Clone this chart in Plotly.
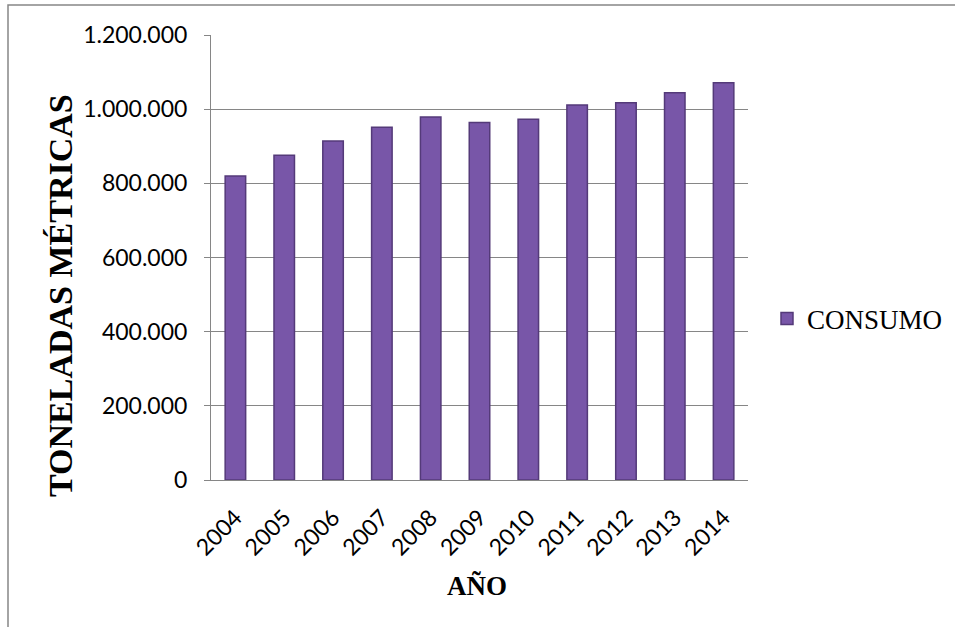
import plotly.graph_objects as go

# Consumo anual (toneladas métricas)
years = ["2004", "2005", "2006", "2007", "2008", "2009", "2010", "2011", "2012", "2013", "2014"]
consumo = [820000, 876000, 914000, 951000, 979000, 964000, 973000, 1011000, 1017000, 1044000, 1071000]
y_ticks = [0, 200000, 400000, 600000, 800000, 1000000, 1200000]

W, H = 955, 627
L, R, T, B = 211, 207, 35, 147
pw, ph = W - L - R, H - T - B


def px(x):
    return (x - L) / pw


def py(y):
    return (H - B - y) / ph


fig = go.Figure()
fig.add_trace(go.Bar(
    x=years,
    y=consumo,
    name="CONSUMO",
    marker=dict(color="#7856A8", line=dict(color="#543A79", width=1.5)),
    width=0.42,
))

fig.update_layout(
    width=W,
    height=H,
    margin=dict(l=L, r=R, t=T, b=B, autoexpand=False),
    paper_bgcolor="white",
    plot_bgcolor="white",
    separators=",.",
    showlegend=True,
    legend=dict(
        x=px(767), y=py(319), xanchor="left", yanchor="middle",
        font=dict(family="Liberation Serif", size=27, color="black"),
        bgcolor="rgba(0,0,0,0)", itemwidth=30,
    ),
    xaxis=dict(
        tickangle=-45,
        tickfont=dict(family="Lato", size=23, color="black"),
        showline=True, linecolor="#868686", linewidth=1,
        showgrid=False, ticks="",
        ticklabelstandoff=14,
        automargin=False,
    ),
    yaxis=dict(
        range=[0, 1200000],
        tickvals=y_ticks,
        tickformat=",d",
        tickfont=dict(family="Lato", size=23, color="black"),
        showline=True, linecolor="#868686", linewidth=1,
        showgrid=True, gridcolor="#868686", gridwidth=1,
        ticks="outside", ticklen=6, tickcolor="#868686",
        ticklabelstandoff=12,
        zeroline=False,
        automargin=False,
    ),
    annotations=[
        dict(text="<b>TONELADAS MÉTRICAS</b>", x=px(60), y=py(296),
             xref="paper", yref="paper", xanchor="center", yanchor="middle",
             showarrow=False, textangle=-90,
             font=dict(family="Liberation Serif", size=34, color="black")),
        dict(text="<b>AÑO</b>", x=px(477), y=py(586),
             xref="paper", yref="paper", xanchor="center", yanchor="middle",
             showarrow=False,
             font=dict(family="Liberation Serif", size=27, color="black")),
    ],
    shapes=[
        dict(type="rect", xref="paper", yref="paper",
             x0=px(8), y0=py(660), x1=px(990), y1=py(5),
             line=dict(color="#868686", width=1.5), layer="below"),
    ],
)

fig.write_html("out.html")
